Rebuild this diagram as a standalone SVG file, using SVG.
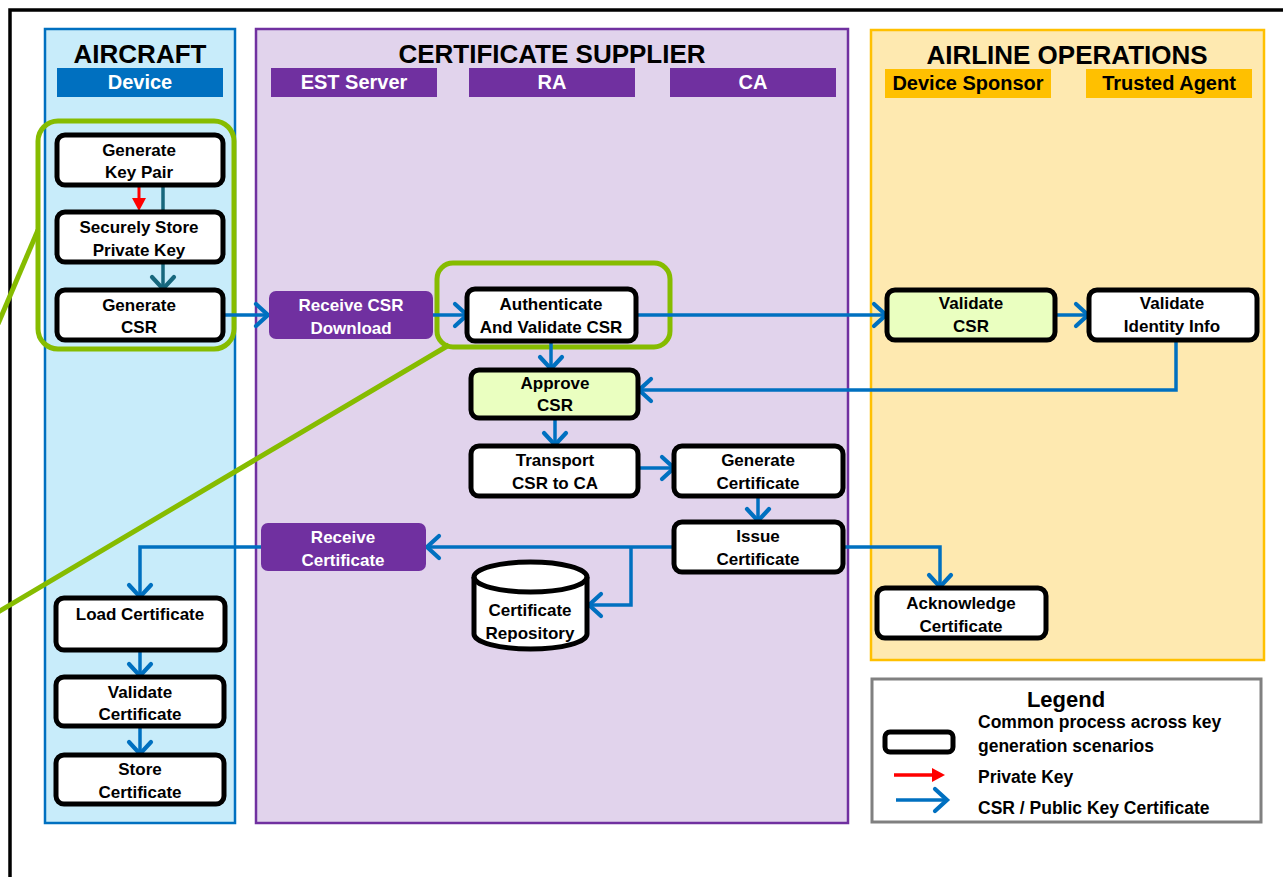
<svg xmlns="http://www.w3.org/2000/svg" width="1283" height="877" viewBox="0 0 1283 877">
  <style>
    .lbl { font-family: "Liberation Sans", Arial, sans-serif; font-weight: bold; font-size: 17px; text-anchor: middle; fill: #000; }
    .white { fill: #fff; }
    .head { font-family: "Liberation Sans", Arial, sans-serif; font-weight: bold; font-size: 26px; text-anchor: middle; fill: #000; }
    .sub { font-family: "Liberation Sans", Arial, sans-serif; font-weight: bold; font-size: 20px; text-anchor: middle; }
    .leg { font-family: "Liberation Sans", Arial, sans-serif; font-weight: bold; font-size: 17.5px; fill: #000; }
    .step { fill: #fff; stroke: #000; stroke-width: 5; }
    .check { fill: #eaffc0; stroke: #000; stroke-width: 5; }
    .est { fill: #7030a0; }
    .flow { fill: none; stroke: #0070c0; stroke-width: 3.5; marker-end: url(#chev); }
    .focus { fill: none; stroke: #86bc00; stroke-width: 5; }
  </style>
  <defs>
    <marker id="chev" markerUnits="userSpaceOnUse" markerWidth="20" markerHeight="28" viewBox="0 0 20 28" refX="15" refY="14" orient="auto">
      <path d="M3,3 L15,14 L3,25" fill="none" stroke="#0070c0" stroke-width="4.2" stroke-linecap="round"/>
    </marker>
    <marker id="chevTeal" markerUnits="userSpaceOnUse" markerWidth="20" markerHeight="28" viewBox="0 0 20 28" refX="15" refY="14" orient="auto">
      <path d="M3,3 L15,14 L3,25" fill="none" stroke="#17677d" stroke-width="4.2" stroke-linecap="round"/>
    </marker>
    <marker id="tri" markerUnits="userSpaceOnUse" markerWidth="14" markerHeight="16" viewBox="0 0 14 16" refX="2" refY="8" orient="auto">
      <path d="M0,1 L13,8 L0,15 Z" fill="#ff0000"/>
    </marker>
  </defs>

  <rect width="1283" height="877" fill="#fff"/>
  <!-- outer frame -->
  <rect x="10" y="10" width="1320" height="920" fill="none" stroke="#000" stroke-width="3.5"/>

  <!-- swimlanes -->
  <g id="lane-aircraft">
    <rect x="45" y="29" width="190" height="794" fill="#c8ecfa" stroke="#0070c0" stroke-width="2.5"/>
    <text class="head" x="140" y="63">AIRCRAFT</text>
    <rect x="57" y="68" width="166" height="29" fill="#0070c0"/>
    <text class="sub white" x="140" y="89">Device</text>
  </g>
  <g id="lane-supplier">
    <rect x="256" y="29" width="592" height="794" fill="#e1d3ec" stroke="#7030a0" stroke-width="2.5"/>
    <text class="head" x="552" y="63">CERTIFICATE SUPPLIER</text>
    <rect x="271" y="68" width="166" height="29" fill="#7030a0"/>
    <text class="sub white" x="354" y="89">EST Server</text>
    <rect x="469" y="68" width="166" height="29" fill="#7030a0"/>
    <text class="sub white" x="552" y="89">RA</text>
    <rect x="670" y="68" width="166" height="29" fill="#7030a0"/>
    <text class="sub white" x="753" y="89">CA</text>
  </g>
  <g id="lane-airline">
    <rect x="871" y="30" width="393" height="630" fill="#fee9b0" stroke="#ffc000" stroke-width="2.5"/>
    <text class="head" x="1067" y="64">AIRLINE OPERATIONS</text>
    <rect x="885" y="69" width="166" height="29" fill="#ffc000"/>
    <text class="sub" x="968" y="90">Device Sponsor</text>
    <rect x="1086" y="69" width="166" height="29" fill="#ffc000"/>
    <text class="sub" x="1169" y="90">Trusted Agent</text>
  </g>

  <!-- highlighted regions with callout lines -->
  <g id="focus">
    <rect class="focus" x="38" y="121" width="196" height="228" rx="20"/>
    <rect class="focus" x="437" y="263" width="233" height="84" rx="16"/>
    <line class="focus" x1="38" y1="230" x2="-2" y2="324"/>
    <line class="focus" x1="449" y1="345" x2="-2" y2="612"/>
  </g>

  <!-- connectors -->
  <g id="connectors">
    <path d="M139,186 V200" fill="none" stroke="#ff0000" stroke-width="3" marker-end="url(#tri)"/>
    <path d="M163,186 V289" fill="none" stroke="#17677d" stroke-width="3.5" marker-end="url(#chevTeal)"/>
    <path class="flow" d="M223,315 H268"/>
    <path class="flow" d="M433,315 H467"/>
    <path class="flow" d="M636,315 H886"/>
    <path class="flow" d="M551,342 V369"/>
    <path class="flow" d="M1055,315 H1088"/>
    <path class="flow" d="M1176,341 V390 H639"/>
    <path class="flow" d="M555,418 V445"/>
    <path class="flow" d="M638,468 H674"/>
    <path class="flow" d="M758,497 V521"/>
    <path class="flow" d="M674,547 H427"/>
    <path class="flow" d="M631,547 V605 H589"/>
    <path class="flow" d="M843,547 H940 V587"/>
    <path class="flow" d="M261,547 H140 V597"/>
    <path class="flow" d="M140,651 V676"/>
    <path class="flow" d="M140,726 V754"/>
  </g>

  <!-- process steps -->
  <g id="generate-key-pair">
    <rect class="step" x="57" y="135" width="166" height="50" rx="8"/>
    <text class="lbl" x="139" y="156">Generate</text>
    <text class="lbl" x="139" y="178">Key Pair</text>
  </g>
  <g id="store-private-key">
    <rect class="step" x="57" y="212" width="166" height="50" rx="8"/>
    <text class="lbl" x="139" y="233">Securely Store</text>
    <text class="lbl" x="139" y="256">Private Key</text>
  </g>
  <g id="generate-csr">
    <rect class="step" x="57" y="290" width="166" height="50" rx="8"/>
    <text class="lbl" x="139" y="311">Generate</text>
    <text class="lbl" x="139" y="333">CSR</text>
  </g>
  <g id="receive-csr-download">
    <rect class="est" x="269" y="291" width="164" height="48" rx="7"/>
    <text class="lbl white" x="351" y="311">Receive CSR</text>
    <text class="lbl white" x="351" y="334">Download</text>
  </g>
  <g id="authenticate-csr">
    <rect class="step" x="467" y="289" width="169" height="52" rx="8"/>
    <text class="lbl" x="551" y="310">Authenticate</text>
    <text class="lbl" x="551" y="333">And Validate CSR</text>
  </g>
  <g id="approve-csr">
    <rect class="check" x="471" y="370" width="167" height="48" rx="8"/>
    <text class="lbl" x="555" y="389">Approve</text>
    <text class="lbl" x="555" y="411">CSR</text>
  </g>
  <g id="transport-csr">
    <rect class="step" x="471" y="446" width="167" height="50" rx="8"/>
    <text class="lbl" x="555" y="466">Transport</text>
    <text class="lbl" x="555" y="489">CSR to CA</text>
  </g>
  <g id="generate-certificate">
    <rect class="step" x="674" y="446" width="169" height="50" rx="8"/>
    <text class="lbl" x="758" y="466">Generate</text>
    <text class="lbl" x="758" y="489">Certificate</text>
  </g>
  <g id="issue-certificate">
    <rect class="step" x="674" y="522" width="169" height="50" rx="8"/>
    <text class="lbl" x="758" y="542">Issue</text>
    <text class="lbl" x="758" y="565">Certificate</text>
  </g>
  <g id="receive-certificate">
    <rect class="est" x="261" y="523" width="165" height="48" rx="7"/>
    <text class="lbl white" x="343" y="543">Receive</text>
    <text class="lbl white" x="343" y="566">Certificate</text>
  </g>
  <g id="certificate-repository">
    <path d="M474,577 A56.5,15 0 0 1 587,577 V634 A56.5,15 0 0 1 474,634 Z" fill="#fff" stroke="#000" stroke-width="5"/>
    <path d="M474,577 A56.5,15 0 0 0 587,577" fill="none" stroke="#000" stroke-width="5"/>
    <text class="lbl" x="530" y="616">Certificate</text>
    <text class="lbl" x="530" y="639">Repository</text>
  </g>
  <g id="validate-csr">
    <rect class="check" x="887" y="290" width="168" height="50" rx="8"/>
    <text class="lbl" x="971" y="309">Validate</text>
    <text class="lbl" x="971" y="332">CSR</text>
  </g>
  <g id="validate-identity">
    <rect class="step" x="1089" y="290" width="168" height="50" rx="8"/>
    <text class="lbl" x="1172" y="309">Validate</text>
    <text class="lbl" x="1172" y="332">Identity Info</text>
  </g>
  <g id="acknowledge-certificate">
    <rect class="step" x="877" y="588" width="169" height="50" rx="8"/>
    <text class="lbl" x="961" y="609">Acknowledge</text>
    <text class="lbl" x="961" y="632">Certificate</text>
  </g>
  <g id="load-certificate">
    <rect class="step" x="56" y="598" width="169" height="52" rx="8"/>
    <text class="lbl" x="140" y="620">Load Certificate</text>
  </g>
  <g id="validate-certificate">
    <rect class="step" x="56" y="677" width="168" height="49" rx="8"/>
    <text class="lbl" x="140" y="698">Validate</text>
    <text class="lbl" x="140" y="720">Certificate</text>
  </g>
  <g id="store-certificate">
    <rect class="step" x="56" y="755" width="168" height="49" rx="8"/>
    <text class="lbl" x="140" y="775">Store</text>
    <text class="lbl" x="140" y="798">Certificate</text>
  </g>

  <!-- legend -->
  <g id="legend">
    <rect x="872" y="679" width="389" height="143" fill="#fff" stroke="#808080" stroke-width="3"/>
    <text class="head" x="1066" y="707" style="font-size:22px">Legend</text>
    <rect class="step" x="885" y="732" width="68" height="20" rx="5"/>
    <text class="leg" x="978" y="728">Common process across key</text>
    <text class="leg" x="978" y="752">generation scenarios</text>
    <path d="M894,775 H934" fill="none" stroke="#ff0000" stroke-width="3.5" marker-end="url(#tri)"/>
    <text class="leg" x="978" y="783">Private Key</text>
    <path class="flow" d="M896,800 H947"/>
    <text class="leg" x="978" y="814">CSR / Public Key Certificate</text>
  </g>
</svg>
